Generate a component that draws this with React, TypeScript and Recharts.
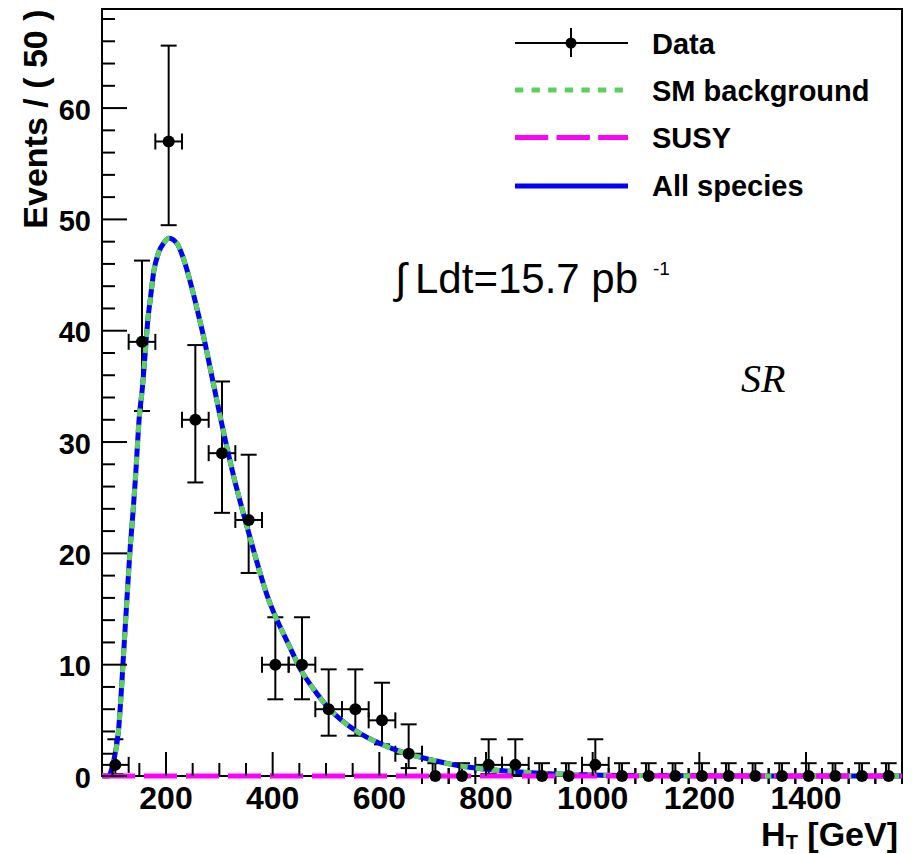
import React from 'react';
import { ComposedChart, Line, Scatter, XAxis, YAxis, ErrorBar, Legend, Customized } from 'recharts';

// ---- data ----
const binCenters = [105, 155, 205, 255, 305, 355, 405, 455, 505, 555, 605, 655, 705, 755, 805, 855, 905, 955, 1005, 1055, 1105, 1155, 1205, 1255, 1305, 1355, 1405, 1455, 1505, 1555];
const eventCounts = [1, 39, 57, 32, 29, 23, 10, 10, 6, 6, 5, 2, 0, 0, 1, 1, 0, 0, 1, 0, 0, 0, 0, 0, 0, 0, 0, 0, 0, 0];
const errLow = [0.83, 6.21, 7.52, 5.63, 5.36, 4.76, 3.11, 3.11, 2.38, 2.38, 2.16, 1.29, 0, 0, 0.83, 0.83, 0, 0, 0.83, 0, 0, 0, 0, 0, 0, 0, 0, 0, 0, 0];
const errHigh = [2.3, 7.3, 8.61, 6.71, 6.44, 5.86, 4.26, 4.26, 3.58, 3.58, 3.38, 2.64, 1.15, 1.15, 2.3, 2.3, 1.15, 1.15, 2.3, 1.15, 1.15, 1.15, 1.15, 1.15, 1.15, 1.15, 1.15, 1.15, 1.15, 1.15];
const binHalfWidth = 25;

const curveHT = [80, 92, 102, 111, 117.5, 120.5, 127, 133, 138, 142.5, 150, 156, 161, 166, 171, 177, 186, 196, 206, 221, 236, 246, 255, 264, 274, 283, 292.5, 302, 311, 327, 345.5, 364, 389, 433, 452, 477, 505, 558, 602, 652, 702, 752, 802, 852, 902, 1000, 1100, 1200, 1400, 1580];
const smBackground = [0, 0, 1.4, 4.1, 8.6, 11.0, 16.1, 20.6, 23.6, 26.6, 32.3, 35.0, 38.0, 41.0, 43.0, 45.3, 47.0, 47.9, 48.3, 47.8, 46.0, 44.3, 42.6, 40.8, 38.7, 36.6, 34.4, 32.2, 30.2, 26.9, 23.5, 20.3, 16.3, 11.5, 9.6, 7.8, 6.1, 4.0, 2.9, 2.0, 1.4, 0.9, 0.6, 0.4, 0.25, 0.1, 0.04, 0.02, 0, 0];
const allSpecies = [0, 0, 1.4, 4.1, 8.6, 11.0, 16.1, 20.6, 23.6, 26.6, 32.3, 35.0, 38.0, 41.0, 43.0, 45.3, 47.0, 47.9, 48.3, 47.8, 46.0, 44.3, 42.6, 40.8, 38.7, 36.6, 34.4, 32.2, 30.2, 26.9, 23.5, 20.3, 16.3, 11.5, 9.6, 7.8, 6.1, 4.0, 2.9, 2.0, 1.4, 0.9, 0.6, 0.4, 0.25, 0.1, 0.04, 0.02, 0, 0];
const susyHT = [80, 1580];
const susyValues = [0, 0];

const xTicks = [100, 150, 200, 250, 300, 350, 400, 450, 500, 550, 600, 650, 700, 750, 800, 850, 900, 950, 1000, 1050, 1100, 1150, 1200, 1250, 1300, 1350, 1400, 1450, 1500, 1550];
const xLabelTicks = [200, 400, 600, 800, 1000, 1200, 1400];
const yTicks = [0, 2, 4, 6, 8, 10, 12, 14, 16, 18, 20, 22, 24, 26, 28, 30, 32, 34, 36, 38, 40, 42, 44, 46, 48, 50, 52, 54, 56, 58, 60, 62, 64, 66, 68];
const yLabelTicks = [0, 10, 20, 30, 40, 50, 60];

// ---- layout ----
const W = 912;
const H = 854;
const MARGIN = { top: 9, right: 10, bottom: 0, left: 0 };
const Y_AXIS_W = 102;
const X_AXIS_H = 78;
const PLOT_LEFT = MARGIN.left + Y_AXIS_W;
const PLOT_TOP = MARGIN.top;
const PLOT_RIGHT = W - MARGIN.right;
const PLOT_BOTTOM = H - X_AXIS_H;

const FONT = '"Liberation Sans", Arial, Helvetica, sans-serif';
const GREEN = '#5ad25a';

const dataPoints = binCenters.map((x, i) => ({ x, y: eventCounts[i], ey: [errLow[i], errHigh[i]], ex: binHalfWidth }));
const smData = curveHT.map((x, i) => ({ x, y: smBackground[i] }));
const allData = curveHT.map((x, i) => ({ x, y: allSpecies[i] }));
const susyData = susyHT.map((x, i) => ({ x, y: susyValues[i] }));

const XTick = (props: any) => {
  const { x, payload } = props;
  const v = payload.value;
  const major = xLabelTicks.includes(v);
  return (
    <g>
      <line x1={x} x2={x} y1={PLOT_BOTTOM} y2={PLOT_BOTTOM - (major ? 24 : 13)} stroke="#000" strokeWidth={2} />
      {major && (
        <text x={x} y={809} textAnchor="middle" fontFamily={FONT} fontWeight="bold" fontSize={32} fill="#000">{v}</text>
      )}
    </g>
  );
};

const YTick = (props: any) => {
  const { y, payload } = props;
  const v = payload.value;
  const major = yLabelTicks.includes(v);
  return (
    <g>
      <line x1={PLOT_LEFT} x2={PLOT_LEFT + (major ? 25 : 13)} y1={y} y2={y} stroke="#000" strokeWidth={2} />
      {major && (
        <text x={91} y={y + 11.5} textAnchor="end" fontFamily={FONT} fontWeight="bold" fontSize={29} fill="#000">{v}</text>
      )}
    </g>
  );
};

const DataDot = (props: any) => {
  const { cx, cy } = props;
  if (cx == null || cy == null) return null;
  return <circle cx={cx} cy={cy} r={6} fill="#000" />;
};

const LegendBox = () => {
  const ox = 505;
  const lx1 = 515 - ox;
  const lx2 = 628 - ox;
  const tx = 652 - ox;
  return (
    <svg width={400} height={210} style={{ display: 'block', overflow: 'visible' }}>
      <line x1={lx1} x2={lx2} y1={43} y2={43} stroke="#000" strokeWidth={2} />
      <line x1={571 - ox} x2={571 - ox} y1={28} y2={57} stroke="#000" strokeWidth={2} />
      <circle cx={571 - ox} cy={43} r={5.5} fill="#000" />
      <text x={tx} y={53.5} fontFamily={FONT} fontWeight="bold" fontSize={29} fill="#000">Data</text>

      <line x1={lx1} x2={lx2} y1={90} y2={90} stroke={GREEN} strokeWidth={5} strokeDasharray="8.3 8.3" />
      <text x={tx} y={100.5} fontFamily={FONT} fontWeight="bold" fontSize={29} fill="#000">SM background</text>

      <line x1={lx1} x2={lx2} y1={137.5} y2={137.5} stroke="#ff00ff" strokeWidth={5} strokeDasharray="33.3 8.3" />
      <text x={tx} y={148} fontFamily={FONT} fontWeight="bold" fontSize={29} fill="#000">SUSY</text>

      <line x1={lx1} x2={lx2} y1={186} y2={186} stroke="#0000ff" strokeWidth={5} />
      <text x={tx} y={195.5} fontFamily={FONT} fontWeight="bold" fontSize={29} fill="#000">All species</text>
    </svg>
  );
};

const Decorations = () => (
  <g>
    <rect x={PLOT_LEFT} y={PLOT_TOP} width={PLOT_RIGHT - PLOT_LEFT} height={PLOT_BOTTOM - PLOT_TOP} fill="none" stroke="#000" strokeWidth={2} />
    <text x={47} y={9.5} transform="rotate(-90, 47, 9.5)" textAnchor="end" fontFamily={FONT} fontWeight="bold" fontSize={34} fill="#000">Events / ( 50 )</text>
    <text x={898} y={845.5} textAnchor="end" fontFamily={FONT} fontWeight="bold" fontSize={34} fill="#000">
      H<tspan fontSize={20} dy={3.5}>T</tspan><tspan fontSize={34} dy={-3.5}> [GeV]</tspan>
    </text>
    <text x={395} y={293} fontFamily={FONT} fontSize={42} fill="#000">∫</text>
    <text x={415} y={293} fontFamily={FONT} fontSize={42} fill="#000">Ldt=15.7 pb</text>
    <text x={653} y={275} fontFamily={FONT} fontSize={19} fill="#000">-1</text>
    <text x={741} y={391.5} fontFamily='"Liberation Serif", "Times New Roman", serif' fontStyle="italic" fontSize={40} fill="#000">SR</text>
  </g>
);

export default function App() {
  return (
    <div style={{ position: 'absolute', left: 0, top: 0, width: W, height: H, background: '#fff' }}>
      <ComposedChart width={W} height={H} margin={MARGIN}>
        <XAxis
          type="number"
          dataKey="x"
          domain={[80, 1580]}
          allowDataOverflow
          ticks={xTicks}
          interval={0}
          tick={<XTick />}
          tickLine={false}
          axisLine={false}
          height={X_AXIS_H}
        />
        <YAxis
          type="number"
          dataKey="y"
          domain={[0, 68.9]}
          ticks={yTicks}
          interval={0}
          tick={<YTick />}
          tickLine={false}
          axisLine={false}
          width={Y_AXIS_W}
        />
        <Scatter data={dataPoints} dataKey="y" fill="#000" shape={<DataDot />} isAnimationActive={false}>
          <ErrorBar dataKey="ey" direction="y" width={8} stroke="#000" strokeWidth={2} />
          <ErrorBar dataKey="ex" direction="x" width={8} stroke="#000" strokeWidth={2} />
        </Scatter>
        <Line data={allData} dataKey="y" type="monotone" stroke="#0000ff" strokeWidth={5} dot={false} isAnimationActive={false} />
        <Line data={smData} dataKey="y" type="monotone" stroke={GREEN} strokeWidth={5} strokeDasharray="8 8" dot={false} isAnimationActive={false} />
        <Line data={susyData} dataKey="y" type="linear" stroke="#ff00ff" strokeWidth={5} strokeDasharray="33 9" dot={false} isAnimationActive={false} />
        <Legend
          layout="vertical"
          align="center"
          verticalAlign="middle"
          content={<LegendBox />}
          wrapperStyle={{ position: 'absolute', left: 505, top: 0, width: 400, height: 210 }}
        />
        <Customized component={<Decorations />} />
      </ComposedChart>
    </div>
  );
}
